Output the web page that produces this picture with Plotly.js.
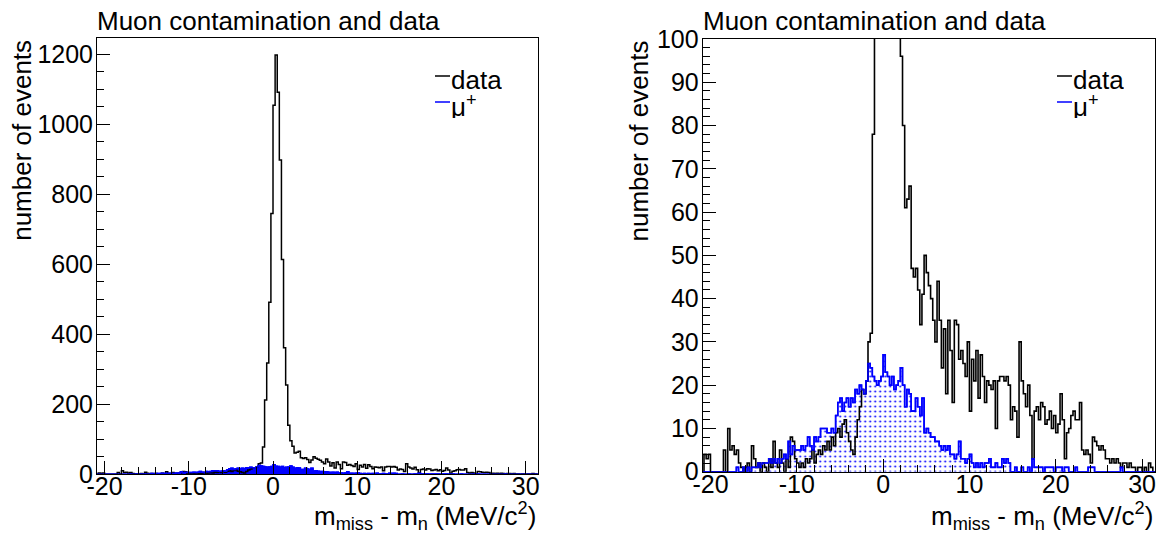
<!DOCTYPE html>
<html>
<head>
<meta charset="utf-8">
<script src="https://cdn.plot.ly/plotly-3.0.1.min.js"></script>
<style>
  html, body { margin: 0; padding: 0; background: #ffffff; }
  #chart { width: 1165px; height: 535px; }
</style>
</head>
<body>
<div id="chart"></div>
<script>
// Histogram binning (MeV/c^2)
const binStart = -21.0;
const binWidth = 0.25;

// data counts, 4 bins per MeV starting at -21
const dataCounts = [
  0,4,3,4,      0,0,0,0,      0,0,5,0,      10,5,6,4,     // -21 .. -17
  5,2,1,0,      1,2,0,6,      3,1,2,0,      2,1,0,3,      // -17 .. -13
  1,7,2,1,      5,2,0,3,      1,8,7,3,      2,1,2,1,      // -13 .. -9
  3,2,3,5,      2,4,5,4,      6,5,7,5,      8,6,9,10,     // -9 .. -5
  8,11,12,9,    7,5,4,8,      12,15,19,18,  21,30,32,78,  // -5 .. -1
  212,318,492,745, 1055,1198,1092,898, 614,362,255,140, 96,80,61,63, // -1 .. 3
  66,47,45,47,  42,34,41,50,  46,43,40,35,  30,44,35,24,  // 3 .. 7
  33,18,35,28,  16,35,34,26,  28,25,22,30,  14,26,21,28,  // 7 .. 11
  17,27,22,16,  21,20,19,21,  10,21,22,22,  21,22,20,12,  // 11 .. 15
  15,14,8,30,   21,18,15,20,  13,3,14,15,   12,16,15,11,  // 15 .. 19
  12,14,10,13,  9,11,18,12,   3,9,10,13,    14,12,12,16,  // 19 .. 23
  5,4,5,4,      2,8,7,6,      5,6,5,3,      3,2,3,2,      // 23 .. 27
  3,2,1,2,      2,1,2,1,      1,0,1,1,      0,1,0,2,      // 27 .. 31
  1,0                                                     // 31 .. 31.5
];

// mu+ contamination counts, same binning
const muCounts = [
  0,0,0,0,      0,0,0,0,      0,0,0,0,      0,0,0,0,      // -21 .. -17
  1,0,0,1,      0,1,0,1,      1,1,2,1,      2,2,2,3,      // -17 .. -13
  2,3,2,3,      2,3,4,3,      7,4,6,5,      5,5,6,5,      // -13 .. -9
  6,8,6,5,      8,7,8,10,     10,10,9,9,    10,9,13,16,   // -9 .. -5
  17,14,16,17,  15,17,16,19,  18,20,19,18,  21,25,24,22,  // -5 .. -1
  21,20,21,22,  27,23,22,20,  22,19,20,21,  24,20,15,19,  // -1 .. 3
  18,14,14,17,  15,13,17,9,   10,9,8,8,     7,7,6,5,      // 3 .. 7
  6,5,6,4,      4,3,4,7,      3,3,2,3,      4,2,1,2,      // 7 .. 11
  1,2,1,2,      2,3,1,1,      2,1,1,3,      2,3,2,0,      // 11 .. 15
  0,1,0,0,      1,0,0,1,      0,3,1,1,      1,1,0,1,      // 15 .. 19
  1,1,1,0,      1,1,1,0,      1,1,0,0,      0,1,0,0,      // 19 .. 23
  0,0,0,1,      1,1,0,0,      0,0,0,0,      0,0,0,0,      // 23 .. 27
  0,0,1,0,      0,0,0,0,      0,0,0,0,      0,0,0,0,      // 27 .. 31
  0,0                                                     // 31 .. 31.5
];

// x tick labels (ROOT style, plain hyphen)
const xTickVals = [-20, -10, 0, 10, 20, 30];
const xTickText = ["-20", "-10", "0", "10", "20", "30"];

const panelTitle = "Muon contamination and data";
const yTitle = "number of events";
const xTitle = "m<sub>miss</sub> - m<sub>n</sub> (MeV/c<sup>2</sup>)";
const legendNames = ["data", "\u03bc<sup>+</sup>"];

function stepXY(counts) {
  const xs = [], ys = [];
  counts.forEach((c, i) => { xs.push(binStart + i * binWidth); ys.push(c); });
  xs.push(binStart + counts.length * binWidth);
  ys.push(counts[counts.length - 1]);
  return { xs, ys };
}

const d = stepXY(dataCounts);
const m = stepXY(muCounts);

const W = 1165, H = 535;
const px = v => v / W;
const py = v => 1 - v / H;

const FONT = "Liberation Sans, Arial, Helvetica, sans-serif";
const FS = 25;

const traces = [
  // left panel
  { x: m.xs, y: m.ys, xaxis: "x", yaxis: "y", type: "scatter", mode: "lines",
    line: { shape: "hv", color: "#0000ff", width: 1.5 }, fill: "tozeroy", fillcolor: "#0000ff",
    name: legendNames[1], showlegend: false, hoverinfo: "skip" },
  { x: d.xs, y: d.ys, xaxis: "x", yaxis: "y", type: "scatter", mode: "lines",
    line: { shape: "hv", color: "#000000", width: 1.5 },
    name: legendNames[0], showlegend: false, hoverinfo: "skip" },
  { x: m.xs, y: m.ys, xaxis: "x", yaxis: "y", type: "scatter", mode: "lines",
    line: { shape: "hv", color: "#0000ff", width: 1.5 }, showlegend: false, hoverinfo: "skip" },
  // right panel
  { x: m.xs, y: m.ys, xaxis: "x2", yaxis: "y2", type: "scatter", mode: "lines",
    line: { shape: "hv", color: "#0000ff", width: 1.5 }, fill: "tozeroy",
    fillcolor: "rgba(0,0,0,0)",
    fillpattern: { shape: ".", fgcolor: "#0000ff", bgcolor: "rgba(255,255,255,0)", size: 5, solidity: 0.12 },
    name: legendNames[1], showlegend: false, hoverinfo: "skip" },
  { x: d.xs, y: d.ys, xaxis: "x2", yaxis: "y2", type: "scatter", mode: "lines",
    line: { shape: "hv", color: "#000000", width: 1.6 },
    name: legendNames[0], showlegend: false, hoverinfo: "skip" },
  { x: m.xs, y: m.ys, xaxis: "x2", yaxis: "y2", type: "scatter", mode: "lines",
    line: { shape: "hv", color: "#0000ff", width: 1.6 }, showlegend: false, hoverinfo: "skip" }
];

function xAxis(domain, anchor) {
  return {
    domain: domain, anchor: anchor, range: [-20.9, 31.5],
    showgrid: false, zeroline: false, showline: true, mirror: true,
    linecolor: "#000", linewidth: 1,
    ticks: "inside", ticklen: 13, tickwidth: 1, tickcolor: "#000",
    tickmode: "array", tickvals: xTickVals, ticktext: xTickText,
    minor: { ticks: "inside", ticklen: 7, tickwidth: 1, tickcolor: "#000", tick0: 0, dtick: 2, showgrid: false },
    tickfont: { family: FONT, size: FS, color: "#000" },
    ticklabelstandoff: -10,
    fixedrange: true
  };
}
function yAxis(domain, anchor, range, dtick, minorDtick) {
  return {
    domain: domain, anchor: anchor, range: range,
    showgrid: false, zeroline: false, showline: true, mirror: true,
    linecolor: "#000", linewidth: 1,
    ticks: "inside", ticklen: 13, tickwidth: 1, tickcolor: "#000",
    tick0: 0, dtick: dtick,
    minor: { ticks: "inside", ticklen: 7, tickwidth: 1, tickcolor: "#000", dtick: minorDtick, showgrid: false },
    tickfont: { family: FONT, size: FS, color: "#000" },
    ticklabelstandoff: -2,
    fixedrange: true
  };
}

const L = { x0: 97, x1: 538.3, top: 38.3, bot: 474.3, ytx: 22 };
const R = { x0: 702.7, x1: 1155, top: 39, bot: 471.7, ytx: 638 };

const annotations = [];
const shapes = [];
function panelText(P, legendX) {
  annotations.push({ xref: "paper", yref: "paper", x: px(P.x0 - 2), y: py(21), xanchor: "left", yanchor: "middle",
    text: panelTitle, showarrow: false, font: { family: FONT, size: 26, color: "#000" } });
  annotations.push({ xref: "paper", yref: "paper", x: px(P.ytx), y: py(P.top), xanchor: "center", yanchor: "top",
    text: yTitle, textangle: -90, showarrow: false, font: { family: FONT, size: 26, color: "#000" } });
  annotations.push({ xref: "paper", yref: "paper", x: px(P.x1), y: py(516), xanchor: "right", yanchor: "middle",
    text: xTitle, showarrow: false, font: { family: FONT, size: 26, color: "#000" } });
  const colors = ["#000000", "#0000ff"];
  [80, 106].forEach((yy, k) => {
    shapes.push({ type: "line", xref: "paper", yref: "paper", x0: px(legendX), x1: px(legendX + 15), y0: py(yy - 4), y1: py(yy - 4),
      line: { color: colors[k], width: 1.5 } });
    annotations.push({ xref: "paper", yref: "paper", x: px(legendX + 15), y: py(yy), xanchor: "left", yanchor: "middle",
      height: 24, valign: "middle", borderpad: 0,
      text: legendNames[k], showarrow: false, font: { family: FONT, size: 26, color: "#000" } });
  });
}
panelText(L, 435);
panelText(R, 1057);

const layout = {
  width: W, height: H,
  margin: { l: 0, r: 0, t: 0, b: 0 },
  paper_bgcolor: "#fff", plot_bgcolor: "#fff",
  font: { family: FONT, size: 26, color: "#000" },
  showlegend: false,
  xaxis: xAxis([px(L.x0), px(L.x1)], "y"),
  yaxis: yAxis([py(L.bot), py(L.top)], "x", [0, 1246], 200, 50),
  xaxis2: xAxis([px(R.x0), px(R.x1)], "y2"),
  yaxis2: yAxis([py(R.bot), py(R.top)], "x2", [0, 100], 10, 2),
  annotations: annotations,
  shapes: shapes
};

Plotly.newPlot("chart", traces, layout, { staticPlot: true, displayModeBar: false });
</script>
</body>
</html>
